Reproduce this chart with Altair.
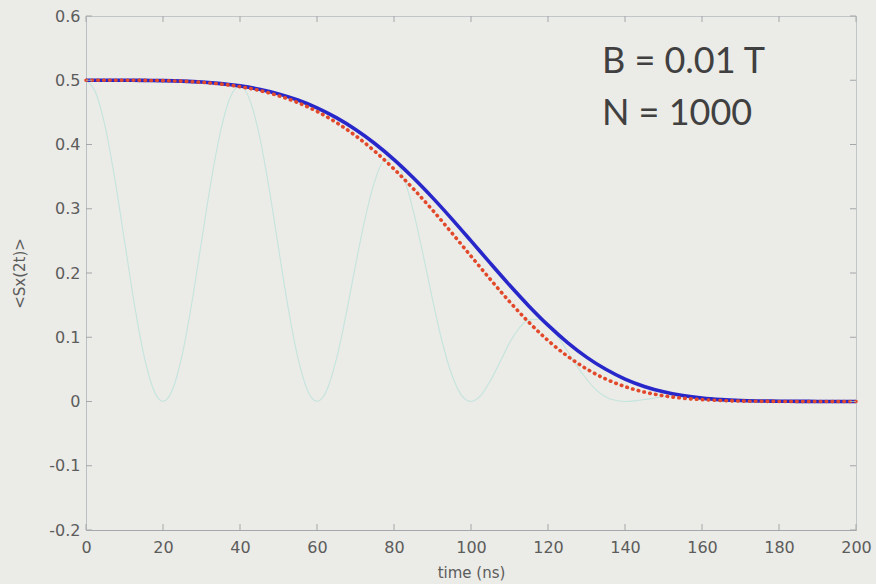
import altair as alt
import pandas as pd

# Decay curves sampled every 5 ns
t_coarse = [0, 5, 10, 15, 20, 25, 30, 35, 40, 45, 50, 55, 60, 65, 70, 75, 80, 85, 90, 95,
            100, 105, 110, 115, 120, 125, 130, 135, 140, 145, 150, 155, 160, 165, 170, 175,
            180, 185, 190, 195, 200]
sx_blue = [0.5, 0.5, 0.5, 0.4998, 0.4994, 0.4986, 0.4972, 0.4948, 0.4912, 0.486, 0.4788,
           0.4693, 0.4571, 0.4418, 0.4234, 0.4016, 0.3765, 0.3482, 0.3173, 0.2843, 0.25,
           0.2153, 0.1813, 0.1488, 0.1188, 0.0921, 0.0691, 0.0501, 0.0349, 0.0234, 0.015,
           0.0092, 0.0053, 0.0029, 0.0015, 0.0008, 0.0004, 0.0002, 0.0001, 0.0, 0.0]
sx_red = [0.5, 0.5, 0.5, 0.4998, 0.4994, 0.4985, 0.4968, 0.4941, 0.49, 0.4841, 0.4759,
          0.4652, 0.4514, 0.4343, 0.4137, 0.3895, 0.3619, 0.3312, 0.2979, 0.2625, 0.2262,
          0.1902, 0.1555, 0.1235, 0.095, 0.0708, 0.0508, 0.035, 0.0232, 0.0147, 0.0089,
          0.0052, 0.0029, 0.0015, 0.0007, 0.0003, 0.0001, 0.0, 0.0, 0.0, 0.0]

# Oscillating single-spin signal sampled every 2.5 ns
t_fine = [0, 2.5, 5, 7.5, 10, 12.5, 15, 17.5, 20, 22.5, 25, 27.5, 30, 32.5, 35, 37.5,
          40, 42.5, 45, 47.5, 50, 52.5, 55, 57.5, 60, 62.5, 65, 67.5, 70, 72.5, 75, 77.5,
          80, 82.5, 85, 87.5, 90, 92.5, 95, 97.5, 100, 102.5, 105, 107.5, 110, 112.5, 115,
          117.5, 120, 122.5, 125, 127.5, 130, 132.5, 135, 137.5, 140, 142.5, 145, 147.5,
          150, 152.5, 155, 157.5, 160, 162.5, 165, 167.5, 170, 172.5, 175, 177.5, 180,
          182.5, 185, 187.5, 190, 192.5, 195, 197.5, 200]
sx_cyan = [0.5, 0.481, 0.427, 0.346, 0.25, 0.154, 0.073, 0.019, 0.0, 0.019, 0.073, 0.154,
           0.249, 0.343, 0.422, 0.474, 0.491, 0.47, 0.415, 0.334, 0.239, 0.146, 0.069,
           0.018, 0.0, 0.017, 0.065, 0.134, 0.212, 0.285, 0.343, 0.375, 0.3765, 0.349,
           0.297, 0.23, 0.159, 0.093, 0.042, 0.01, 0.0, 0.009, 0.032, 0.061, 0.091, 0.114,
           0.127, 0.128, 0.119, 0.101, 0.079, 0.055, 0.035, 0.018, 0.007, 0.002, 0.0,
           0.001, 0.003, 0.005, 0.0075, 0.009, 0.009, 0.008, 0.0053, 0.003, 0.001, 0.0003,
           0.0, 0.0001, 0.0, 0.0, 0.0, 0.0, 0.0, 0.0, 0.0, 0.0, 0.0, 0.0, 0.0]

x_ticks = [0, 20, 40, 60, 80, 100, 120, 140, 160, 180, 200]
y_ticks = [-0.2, -0.1, 0.0, 0.1, 0.2, 0.3, 0.4, 0.5, 0.6]

notes = ["B = 0.01 T", "N = 1000"]
note_t = [134, 134]
note_sx = [0.511, 0.43]

W, H = 770, 514
BG = "#ebebe7"
AXIS_GREY = "#a4a8aa"
LABEL_GREY = "#5c5c5c"

coarse = pd.DataFrame({"t": t_coarse, "blue": sx_blue, "red": sx_red})
fine = pd.DataFrame({"t": t_fine, "cyan": sx_cyan})
xt = pd.DataFrame({"t": x_ticks})
yt = pd.DataFrame({"v": y_ticks})
nt = pd.DataFrame({"label": notes, "t": note_t, "sx": note_sx})

x_scale = alt.Scale(domain=[0, 200], nice=False)
y_scale = alt.Scale(domain=[-0.2, 0.6], nice=False)

x_enc = alt.X(
    "t:Q", scale=x_scale, title="time (ns)",
    axis=alt.Axis(values=x_ticks, ticks=False, labelPadding=9, titlePadding=10,
                  domainColor=AXIS_GREY, labelFlush=False),
)

cyan = alt.Chart(fine).mark_line(
    color="#c4e4de", strokeWidth=1.1, interpolate="monotone"
).encode(
    x=x_enc,
    y=alt.Y("cyan:Q", scale=y_scale, title="<Sx(2t)>",
            axis=alt.Axis(values=y_ticks, ticks=False, labelPadding=6, titlePadding=21,
                          domainColor="#b8c0c4",
                          labelExpr="replace(format(datum.value, '~g'), '\u2212', '-')")),
)

blue = alt.Chart(coarse).mark_line(
    color="#1c1cc8", strokeWidth=3.6, interpolate="monotone", opacity=0.95
).encode(x=alt.X("t:Q", scale=x_scale), y=alt.Y("blue:Q", scale=y_scale))

red = alt.Chart(coarse).mark_line(
    color="#e2482a", strokeWidth=3.6, strokeCap="round", strokeDash=[0.5, 5.4],
    interpolate="monotone"
).encode(x=alt.X("t:Q", scale=x_scale), y=alt.Y("red:Q", scale=y_scale))

TICK = 6
y_left = alt.Chart(yt).mark_rule(color=AXIS_GREY, strokeWidth=1).encode(
    y=alt.Y("v:Q", scale=y_scale), x=alt.value(0), x2=alt.value(TICK))
y_right = alt.Chart(yt).mark_rule(color=AXIS_GREY, strokeWidth=1).encode(
    y=alt.Y("v:Q", scale=y_scale), x=alt.value(W - TICK), x2=alt.value(W))
x_bottom = alt.Chart(xt).mark_rule(color=AXIS_GREY, strokeWidth=1).encode(
    x=alt.X("t:Q", scale=x_scale), y=alt.value(H - TICK), y2=alt.value(H))
x_top = alt.Chart(xt).mark_rule(color=AXIS_GREY, strokeWidth=1).encode(
    x=alt.X("t:Q", scale=x_scale), y=alt.value(0), y2=alt.value(TICK))

annot = alt.Chart(nt).mark_text(
    align="left", baseline="alphabetic", font="Lato", fontSize=36, color="#404040"
).encode(
    x=alt.X("t:Q", scale=x_scale), y=alt.Y("sx:Q", scale=y_scale), text="label:N"
)

chart = alt.layer(
    cyan, blue, red, y_left, y_right, x_bottom, x_top, annot
).properties(
    width=W, height=H, background=BG,
    padding={"left": 86, "top": 16, "right": 20, "bottom": 54},
    autosize=alt.AutoSizeParams(type="none"),
).configure_view(
    stroke="#c2c6c8", strokeWidth=1
).configure_axis(
    grid=False, labelFont="DejaVu Sans", labelFontSize=16, labelColor=LABEL_GREY,
    titleFont="DejaVu Sans", titleFontSize=15, titleColor=LABEL_GREY,
    titleFontWeight="normal",
)

chart.save("out.html", embed_options={"renderer": "svg", "actions": False})
